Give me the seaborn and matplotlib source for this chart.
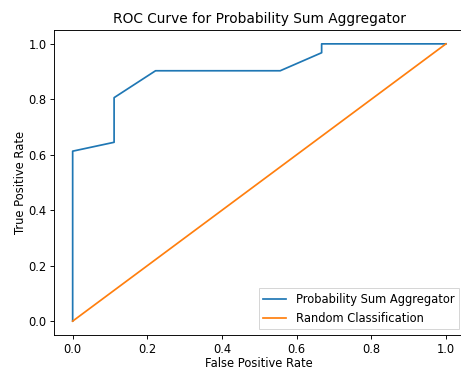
import matplotlib
matplotlib.use("Agg")
import matplotlib.pyplot as plt
import seaborn as sns
import pandas as pd

fpr = [0.0, 0.0, 0.111, 0.111, 0.222, 0.556, 0.667, 0.667, 1.0]
tpr = [0.0, 0.613, 0.645, 0.806, 0.903, 0.903, 0.968, 1.0, 1.0]
rand_x = [0.0, 1.0]
rand_y = [0.0, 1.0]

s = 1.15
plt.rcParams['font.family'] = ['DejaVu Sans']
plt.rcParams['axes.linewidth'] = 0.8 * s
plt.rcParams['xtick.major.size'] = 3.5 * s
plt.rcParams['ytick.major.size'] = 3.5 * s
plt.rcParams['xtick.major.width'] = 0.8 * s
plt.rcParams['ytick.major.width'] = 0.8 * s
plt.rcParams['xtick.major.pad'] = 3.5
plt.rcParams['ytick.major.pad'] = 3.5

fig = plt.figure(figsize=(461/72, 371/72), dpi=72)
ax = fig.add_axes([54/461, 1 - 335/371, (464.6 - 54)/461, (335 - 30)/371])

df1 = pd.DataFrame({"x": fpr, "y": tpr})
df2 = pd.DataFrame({"x": rand_x, "y": rand_y})
sns.lineplot(data=df1, x="x", y="y", sort=False, estimator=None, ax=ax,
             color="#1f77b4", label="Probability Sum Aggregator", linewidth=1.5 * s)
sns.lineplot(data=df2, x="x", y="y", sort=False, estimator=None, ax=ax,
             color="#ff7f0e", label="Random Classification", linewidth=1.5 * s)

ax.set_xlabel("False Positive Rate", fontsize=10 * s, labelpad=1.5)
ax.set_ylabel("True Positive Rate", fontsize=10 * s, labelpad=1.5)
ax.set_title("ROC Curve for Probability Sum Aggregator", fontsize=12 * s, pad=6 * s)
ax.set_xticks([0.0, 0.2, 0.4, 0.6, 0.8, 1.0])
ax.set_yticks([0.0, 0.2, 0.4, 0.6, 0.8, 1.0])
ax.tick_params(labelsize=10 * s)
ax.legend(loc="lower right", fontsize=10 * s, fancybox=False, borderaxespad=0.5,
          edgecolor="#cccccc")

fig.savefig("out.png", dpi=72)
